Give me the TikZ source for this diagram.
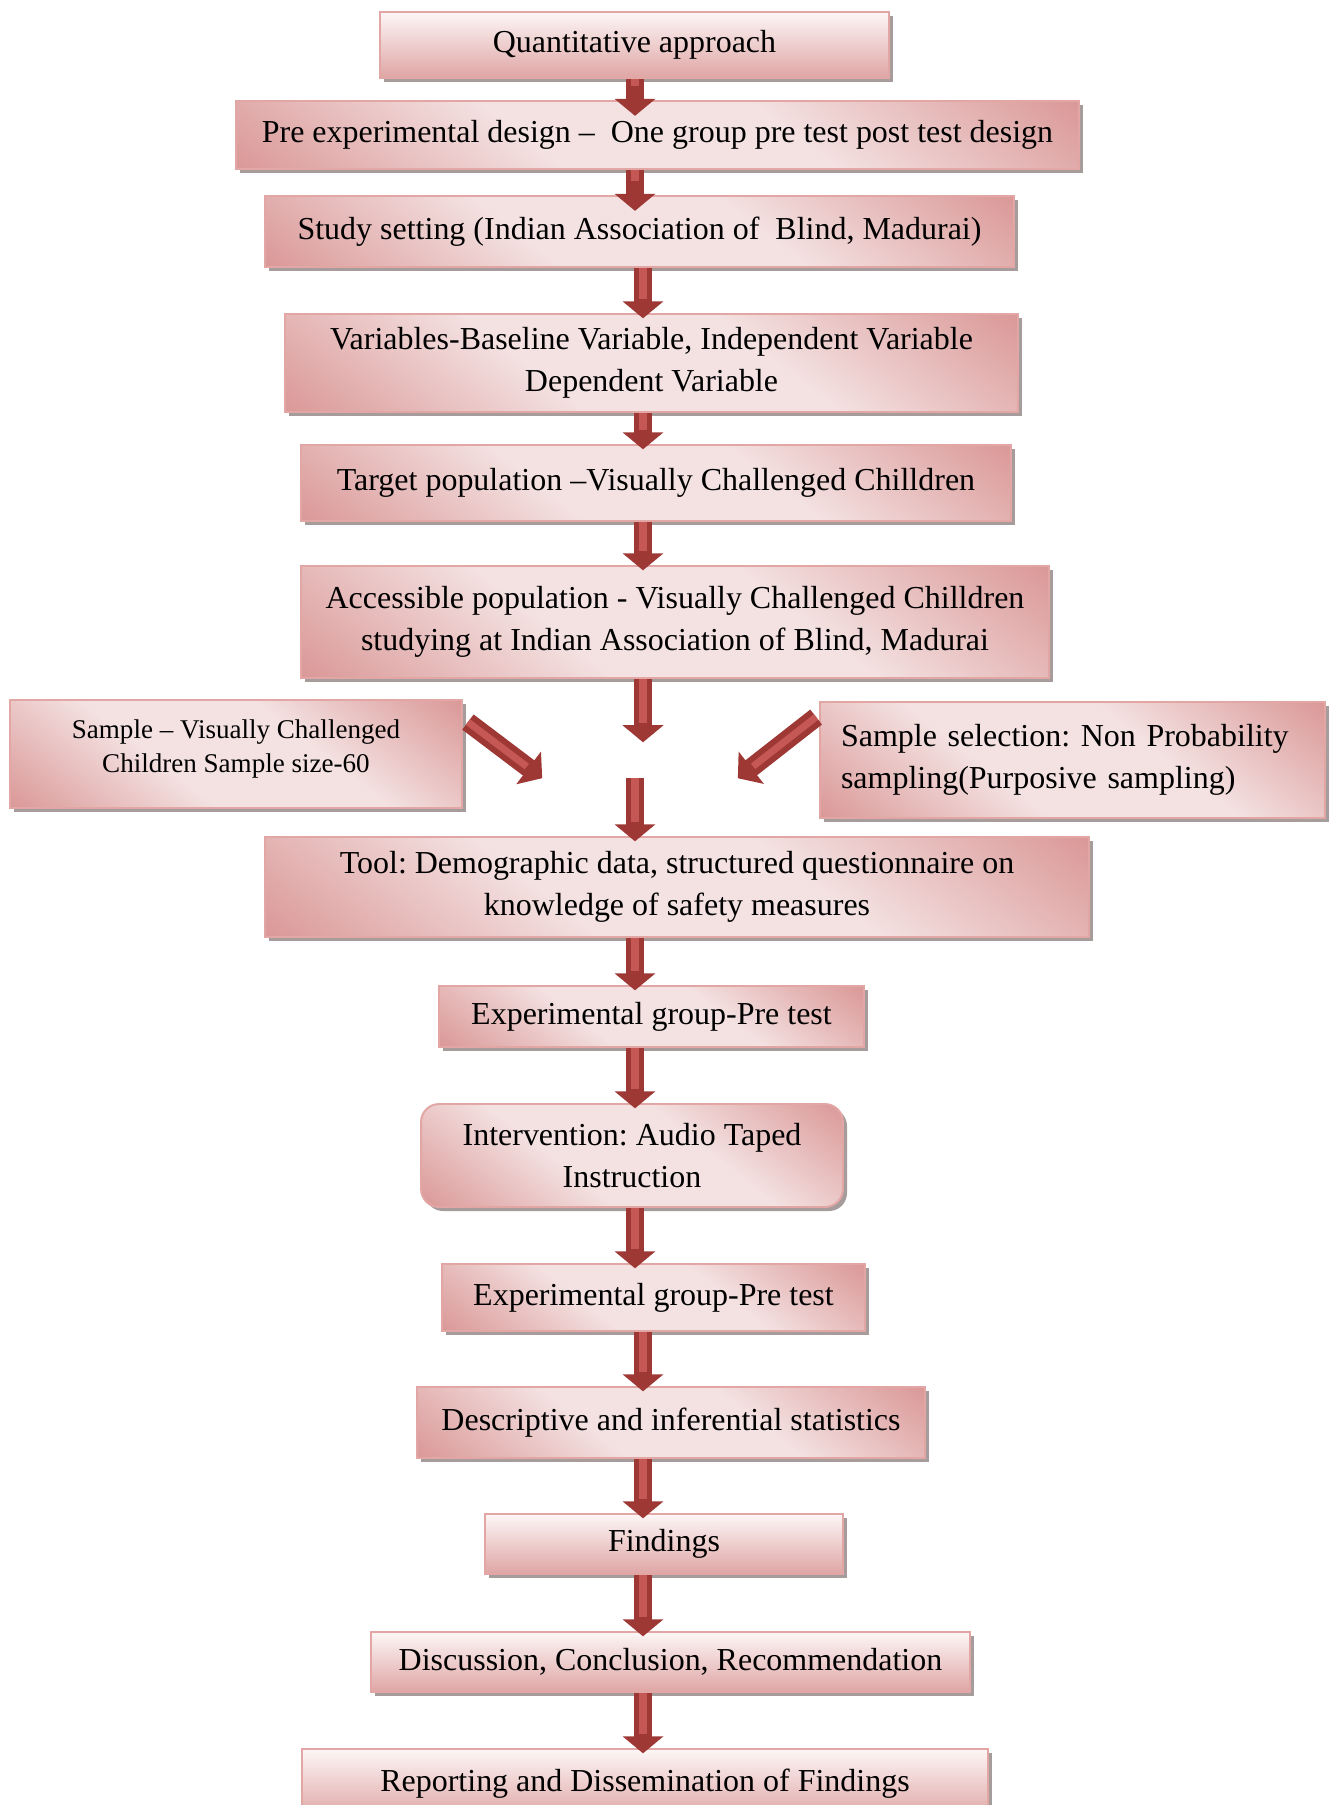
\documentclass[tikz,border=0pt]{standalone}
\usepackage{fontspec}
\setmainfont{Liberation Serif}
\frenchspacing
\usetikzlibrary{arrows.meta,calc,shadows}
\definecolor{boxdark}{HTML}{D99594}
\definecolor{boxlight}{HTML}{F4E2E2}
\definecolor{boxtop}{HTML}{FDF6F6}
\definecolor{boxedge}{HTML}{E2A6A5}
\definecolor{arrowdark}{HTML}{9E3835}
\definecolor{arrowlight}{HTML}{C55754}
\definecolor{shadowgrey}{HTML}{A69C9C}
\pgfdeclareverticalshading{boxshade}{100bp}{color(0bp)=(boxdark); color(14bp)=(boxdark);
  color(40bp)=(boxlight); color(60bp)=(boxlight); color(86bp)=(boxdark); color(100bp)=(boxdark)}
\tikzset{
  box/.style        = {draw=boxedge, line width=1.1pt, shade, shading=boxshade, shading angle=-38,
                       inner sep=2pt, align=center,
                       drop shadow={shadow xshift=2.3pt, shadow yshift=-2.3pt, fill=shadowgrey, opacity=1}},
  softbox/.style    = {box, top color=boxtop, bottom color=boxdark!85, shading angle=0},
  flow/.style       = {line width=10.8pt, draw=arrowdark, -{Triangle[width=22.8pt,length=9.7pt]},
                       shorten >=-3pt, postaction={draw=arrowlight, line width=4pt, -, shorten >=8pt}},
  every node/.style = {font=\fontsize{18.2}{23.6}\selectfont},
  smalltext/.style  = {font=\fontsize{15.4}{18.8}\selectfont},
}
\begin{document}
\begin{tikzpicture}[x=0.02cm, y=-0.02cm]
  \path[use as bounding box, fill=white] (0,0) rectangle (1334,1805);
  \coordinate (spineA) at (635,0);
  \coordinate (spineB) at (643,0);

  % main column
  \node[softbox, minimum width=10.18cm, minimum height=1.32cm] (approach) at (634.5,45) {Quantitative approach};
  \node[box, minimum width=16.86cm, minimum height=1.36cm] (design) at (657.5,135)
    {Pre experimental design – \ One group pre test post test design};
  \node[box, minimum width=14.98cm, minimum height=1.42cm] (setting) at (639.5,231.5)
    {Study setting (Indian Association of \ Blind, Madurai)};
  \node[box, minimum width=14.66cm, minimum height=1.96cm] (variables) at (651.5,363)
    {Variables-Baseline Variable, Independent Variable\\Dependent Variable};
  \node[box, minimum width=14.2cm, minimum height=1.52cm] (target) at (656,483)
    {Target population –Visually Challenged Chilldren};
  \node[box, minimum width=14.96cm, minimum height=2.24cm] (access) at (675,622)
    {Accessible population - Visually Challenged Chilldren\\studying at Indian Association of Blind, Madurai};
  \node[box, smalltext, minimum width=9.04cm, minimum height=2.16cm] (sample) at (236,754)
    {Sample – Visually Challenged\\Children Sample size-60\\[-9.8pt]};
  \node[box, align=left, inner xsep=0.42cm, text width=9.26cm, minimum height=2.32cm] (selection) at (1072.5,760)
    {Sample selection: Non Probability\\sampling(Purposive sampling)};
  \node[box, minimum width=16.48cm, minimum height=2.0cm] (tool) at (677,887)
    {Tool: Demographic data, structured questionnaire on\\knowledge of safety measures};
  \node[box, minimum width=8.5cm, minimum height=1.22cm] (pretest) at (651.5,1016.5)
    {Experimental group-Pre test};
  \node[box, rounded corners=0.36cm, minimum width=8.44cm, minimum height=2.06cm] (intervention) at (632,1155.5)
    {Intervention: Audio Taped\\Instruction};
  \node[box, minimum width=8.46cm, minimum height=1.34cm] (posttest) at (653.5,1297.5)
    {Experimental group-Pre test};
  \node[box, minimum width=10.16cm, minimum height=1.42cm] (stats) at (671,1422.5)
    {Descriptive and inferential statistics};
  \node[softbox, minimum width=7.16cm, minimum height=1.2cm] (findings) at (664,1544) {Findings};
  \node[softbox, minimum width=11.98cm, minimum height=1.2cm] (discussion) at (670.5,1662)
    {Discussion, Conclusion, Recommendation};
  \node[softbox, minimum width=13.72cm, minimum height=1.4cm] (report) at (645,1784)
    {Reporting and Dissemination of Findings};

  \coordinate (gap) at (643,737);
  \coordinate (merge) at (635,778);
  \coordinate (joinL) at (538,775);
  \coordinate (joinR) at (742,775);

  % block arrows
  \draw[flow, shorten >=-9pt] (approach.south -| spineA) -- (design.north -| spineA);
  \draw[flow, shorten >=-9pt] (design.south -| spineA) -- (setting.north -| spineA);
  \draw[flow] (setting.south -| spineB) -- (variables.north -| spineB);
  \draw[flow] (variables.south -| spineB) -- (target.north -| spineB);
  \draw[flow] (target.south -| spineB) -- (access.north -| spineB);
  \draw[flow] (access.south -| spineB) -- (gap);
  \draw[flow] ($(sample.north east)+(5,23)$) -- (joinL);
  \draw[flow] ($(selection.north west)+(-3,16)$) -- (joinR);
  \draw[flow] (merge) -- (tool.north -| merge);
  \draw[flow] (tool.south -| spineA) -- (pretest.north -| spineA);
  \draw[flow] (pretest.south -| spineA) -- (intervention.north -| spineA);
  \draw[flow] (intervention.south -| spineA) -- (posttest.north -| spineA);
  \draw[flow] (posttest.south -| spineB) -- (stats.north -| spineB);
  \draw[flow] (stats.south -| spineB) -- (findings.north -| spineB);
  \draw[flow] (findings.south -| spineB) -- (discussion.north -| spineB);
  \draw[flow] (discussion.south -| spineB) -- (report.north -| spineB);
\end{tikzpicture}
\end{document}
